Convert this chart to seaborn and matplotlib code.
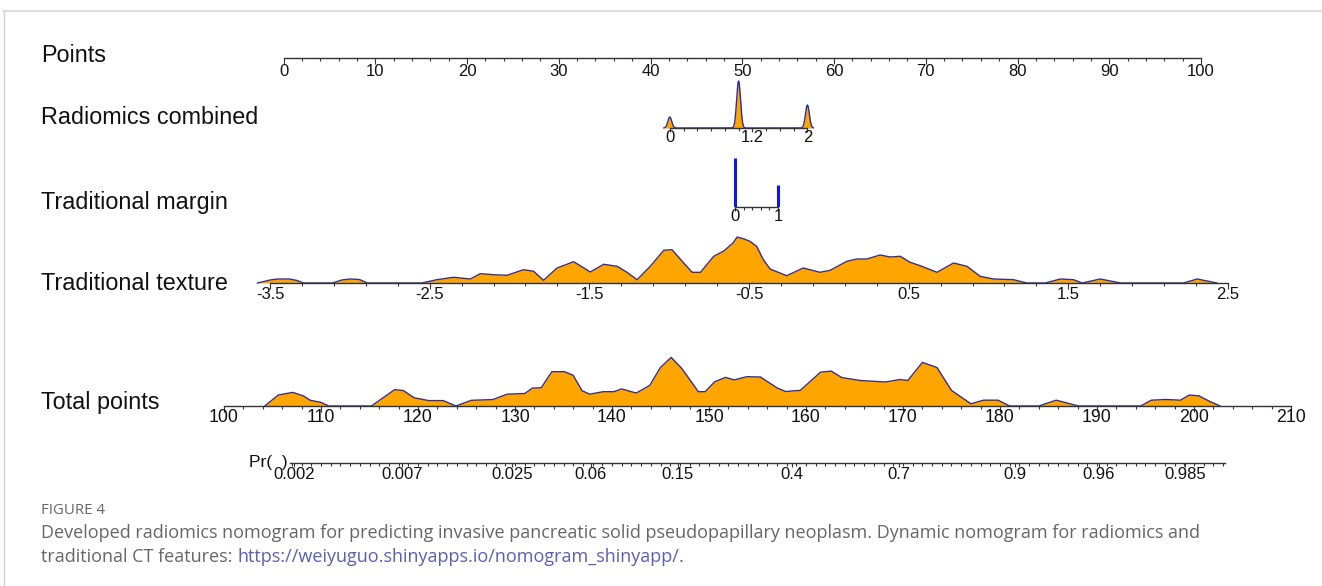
import numpy as np
import matplotlib
matplotlib.use("Agg")
import matplotlib.pyplot as plt
import seaborn as sns
from matplotlib.lines import Line2D

# ---------------- data ----------------
points_ticks = list(range(0, 101, 10))

rad_levels = [0, 1, 2]
rad_density = [11, 47, 23]
rad_tick_labels = [0, 1.2, 2]

margin_levels = [0, 1]
margin_density = [49, 22]

tex_x = [-3.58, -3.55, -3.50, -3.45, -3.38, -3.33, -3.29, -3.11, -3.05, -3.00, -2.94, -2.89,
         -2.55, -2.455, -2.35, -2.246, -2.183, -2.10, -2.016, -1.912, -1.849, -1.787, -1.702,
         -1.598, -1.494, -1.41, -1.326, -1.264, -1.201, -1.118, -1.034, -0.982, -0.909, -0.856,
         -0.804, -0.721, -0.658, -0.60, -0.574, -0.53, -0.494, -0.452, -0.41, -0.368, -0.264,
         -0.16, -0.055, 0.008, 0.113, 0.175, 0.238, 0.321, 0.384, 0.447, 0.509, 0.572, 0.677,
         0.781, 0.865, 0.948, 1.032, 1.157, 1.241, 1.356, 1.45, 1.533, 1.586, 1.70, 1.826,
         2.221, 2.307, 2.432]
tex_d = [0, 1.0, 3.0, 4.0, 4.0, 2.5, 0, 0, 3.0, 4.0, 3.5, 0,
         0, 3.3, 5.7, 4.0, 9.3, 8.3, 7.7, 13.3, 11.7, 2.7, 15.0,
         21.3, 11.0, 18.7, 16.7, 10.7, 3.3, 16.7, 32.7, 33.3, 20.0, 10.7,
         10.7, 26.7, 32.0, 40.0, 46.0, 44.0, 41.7, 36.7, 23.3, 14.0, 7.3,
         15.0, 10.7, 12.7, 21.7, 24.0, 24.0, 28.0, 26.0, 26.7, 20.7, 17.3, 10.7,
         20.0, 16.7, 6.7, 4.0, 3.3, 0, 0, 4.0, 3.3, 0, 4.0, 0,
         0, 4.0, 0]
tex_tick_labels = [-3.5, -2.5, -1.5, -0.5, 0.5, 1.5, 2.5]

tp_x = [104.2, 105.6, 107.1, 108.2, 108.9, 110.0, 110.8, 115.2, 117.6, 118.5, 119.6, 121.1,
        122.6, 123.9, 125.5, 127.7, 129.2, 131.0, 131.8, 132.7, 133.8, 135.1, 136.0, 136.9,
        137.7, 139.1, 140.2, 141.0, 142.5, 143.9, 145.0, 146.1, 147.2, 148.9, 149.6, 150.6,
        151.7, 152.6, 153.9, 155.3, 157.0, 157.9, 159.4, 161.5, 162.6, 163.7, 165.6, 168.2,
        169.7, 170.5, 172.0, 173.5, 175.0, 177.0, 178.3, 179.8, 181.0, 184.0, 185.8, 188.1,
        194.5, 195.6, 197.1, 198.6, 199.5, 200.5, 201.6, 202.7]
tp_d = [0, 11.0, 13.6, 10.0, 5.7, 3.6, 0, 0, 16.4, 15.4, 8.2, 5.4,
        5.4, 0, 5.7, 6.4, 11.8, 12.5, 17.9, 18.2, 34.3, 34.3, 30.7, 15.4,
        11.8, 14.3, 14.3, 17.1, 12.9, 20.7, 38.6, 48.6, 37.5, 14.3, 14.3, 24.3,
        28.6, 26.1, 29.3, 29.0, 18.2, 14.5, 15.6, 33.8, 34.9, 28.4, 25.5, 24.0,
        26.5, 25.5, 43.6, 38.5, 15.6, 2.2, 5.8, 5.8, 0, 0, 5.8, 0,
        0, 5.8, 6.5, 5.8, 10.9, 10.2, 4.7, 0]
tp_ticks = list(range(100, 211, 10))

pr_ticks = [0.002, 0.007, 0.025, 0.06, 0.15, 0.4, 0.7, 0.9, 0.96, 0.985]
pr_labels = ["0.002", "0.007", "0.025", "0.06", "0.15", "0.4", "0.7", "0.9", "0.96", "0.985"]
# logistic model: logit(p) = intercept + slope * total points
lp_intercept = -18.35
lp_slope = 0.1132

row_names = ["Points", "Radiomics combined", "Traditional margin", "Traditional texture", "Total points"]

# ---------------- style ----------------
sns.set_theme(style="white")
plt.rcParams["font.family"] = ["Liberation Sans", "DejaVu Sans"]

W, H = 1322, 586
ORANGE = "#FFA500"
OUTLINE = "#2E2E9E"
BLUE = "#1515E0"
AXC = "#333333"
TXT = "#111111"

fig = plt.figure(figsize=(W / 100, H / 100), dpi=100)
fig.patch.set_facecolor("white")


def row_axes(base_px, height_px, va, pa, vb, pb):
    ax = fig.add_axes([0, 1 - base_px / H, 1, height_px / H])
    k = (pb - pa) / (vb - va)
    ax.set_xlim(va - pa / k, va + (W - pa) / k)
    ax.set_ylim(0, height_px)
    ax.patch.set_alpha(0)
    for s in ["top", "left", "right"]:
        ax.spines[s].set_visible(False)
    ax.spines["bottom"].set_color(AXC)
    ax.spines["bottom"].set_linewidth(1.0)
    ax.set_yticks([])
    ax.grid(False)
    ax.tick_params(axis="x", which="both", bottom=True, direction="out", color=AXC,
                   width=0.8, labelcolor=TXT)
    ax.tick_params(axis="x", which="major", length=4)
    ax.tick_params(axis="x", which="minor", length=2.5)
    return ax


def density(ax, xs, ds):
    ax.fill_between(xs, 0, ds, color=ORANGE, linewidth=0, clip_on=False)
    sns.lineplot(x=xs, y=ds, ax=ax, color=OUTLINE, linewidth=1.0, estimator=None,
                 sort=False, legend=False, clip_on=False)


# Points row
ax = row_axes(58, 30, 0, 283.5, 100, 1201)
ax.spines["bottom"].set_bounds(0, 100)
ax.set_xticks(points_ticks, labels=[str(t) for t in points_ticks])
ax.set_xticks(np.arange(0, 101, 2), minor=True)
ax.tick_params(axis="x", which="major", labelsize=12, pad=0)

# Radiomics combined
ax = row_axes(128, 60, 0, 669.8, 2, 807.4)
ax.spines["bottom"].set_bounds(0, 2)
grid = np.linspace(-0.09, 2.09, 700)
spikes = np.zeros_like(grid)
for lv, h in zip(rad_levels, rad_density):
    spikes += h * np.exp(-0.5 * ((grid - lv) / 0.028) ** 2)
density(ax, grid, spikes)
ax.set_xticks(rad_tick_labels, labels=["0", "1.2", "2"])
ax.set_xticks(np.arange(0, 2.01, 0.2), minor=True)
ax.tick_params(axis="x", which="major", labelsize=12, pad=-1.5, length=3)

# Traditional margin
ax = row_axes(207, 60, 0, 735, 1, 778)
ax.spines["bottom"].set_bounds(0, 1)
ax.vlines(margin_levels, 0, margin_density, color=BLUE, linewidth=2.2)
ax.set_xticks(margin_levels, labels=["0", "1"])
ax.set_xticks(np.arange(0, 1.01, 0.2), minor=True)
ax.tick_params(axis="x", which="major", labelsize=12, pad=-1.5, length=3)

# Traditional texture
ax = row_axes(283, 60, -3.5, 270, 2.5, 1228)
ax.spines["bottom"].set_bounds(-3.5, 2.5)
density(ax, tex_x, tex_d)
ax.set_xticks(tex_tick_labels, labels=[f"{t:g}" for t in tex_tick_labels])
ax.set_xticks(np.arange(-3.5, 2.51, 0.2), minor=True)
ax.tick_params(axis="x", which="major", labelsize=12, pad=-1)

# Total points
ax_tp = row_axes(406, 60, 100, 224, 210, 1291)
ax_tp.spines["bottom"].set_bounds(100, 210)
density(ax_tp, tp_x, tp_d)
ax_tp.set_xticks(tp_ticks, labels=[str(t) for t in tp_ticks])
ax_tp.set_xticks(np.arange(100, 211, 2), minor=True)
ax_tp.tick_params(axis="x", which="major", labelsize=12.8, pad=-1.5)

# Probability axis
def tp_of_p(p):
    p = np.asarray(p, dtype=float)
    return (np.log(p / (1 - p)) - lp_intercept) / lp_slope

ax = row_axes(463, 20, 100, 224, 210, 1291)
lo, hi = tp_of_p(0.0019), tp_of_p(0.9905)
ax.spines["bottom"].set_bounds(lo, hi)
ax.set_xticks(tp_of_p(pr_ticks), labels=pr_labels)
ax.set_xticks(np.arange(np.ceil(lo), hi, 1.0), minor=True)
ax.tick_params(axis="x", which="major", labelsize=12, pad=0, length=3)
ax.tick_params(axis="x", which="minor", length=2)

fig.text(249 / W, 1 - 467 / H, "Pr(  )", fontsize=12.5, color=TXT, va="baseline", ha="left")

# Row names
for name, ypx in zip(row_names, [55, 117, 203, 283, 402]):
    fig.text(41 / W, 1 - ypx / H, name, fontsize=16.8, color=TXT, va="center", ha="left")

# Card frame
fig.add_artist(Line2D([3 / W, 1], [1 - 10.5 / H, 1 - 10.5 / H], transform=fig.transFigure,
                      color="#dedede", linewidth=1.6))
fig.add_artist(Line2D([3.5 / W, 3.5 / W], [0, 1 - 10.5 / H], transform=fig.transFigure,
                      color="#d2d2d2", linewidth=1.0))

# Caption
cap = fig.add_axes([0, 0, 1, 1])
cap.set_axis_off()
cap.patch.set_alpha(0)
CAPF = ["Open Sans", "DejaVu Sans"]
CAPC = "#666666"
cap.text(41 / W, 1 - 510 / H, "FIGURE 4", fontsize=10.8, color=CAPC, family=CAPF,
         va="center", ha="left", transform=fig.transFigure)
cap.text(41 / W, 1 - 533 / H,
         "Developed radiomics nomogram for predicting invasive pancreatic solid pseudopapillary "
         "neoplasm. Dynamic nomogram for radiomics and",
         fontsize=13.0, color=CAPC, family=CAPF, va="center", ha="left", transform=fig.transFigure)
t1 = cap.text(41 / W, 1 - 557 / H, "traditional CT features: ", fontsize=13.0, color=CAPC,
              family=CAPF, va="center", ha="left", transform=fig.transFigure)
t2 = cap.annotate("https://weiyuguo.shinyapps.io/nomogram_shinyapp/", xy=(1, 0), xycoords=t1,
                  fontsize=13.0, color="#5B5FB0", family=CAPF, va="bottom", ha="left")
cap.annotate(".", xy=(1, 0), xycoords=t2, fontsize=13.0, color=CAPC, family=CAPF,
             va="bottom", ha="left")

fig.savefig("out.png", dpi=100, facecolor="white")
